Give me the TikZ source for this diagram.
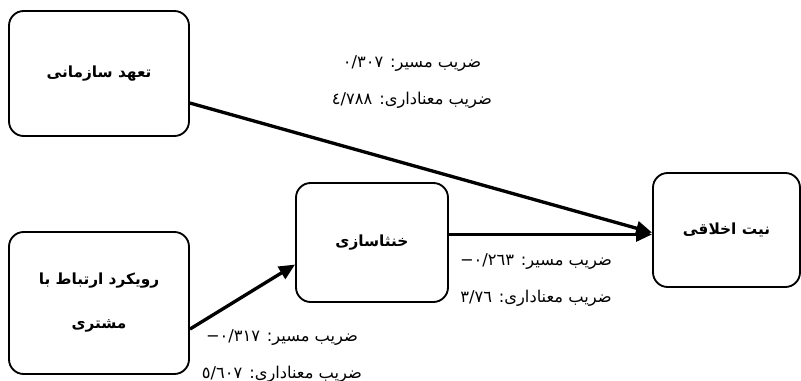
\documentclass[tikz,border=0pt]{standalone}
\usepackage{fontspec}
\newfontfamily\arabicfont[Script=Arabic]{DejaVu Sans}
\TeXXeTstate=1
\usetikzlibrary{arrows.meta}
\newcommand{\rtl}[1]{\beginR #1\endR}

\begin{document}
\begin{tikzpicture}[x=0.75pt, y=-0.75pt, >={Triangle[length=12pt,width=10.5pt]},
      var/.style={draw, line width=1.4pt, rounded corners=11pt, align=center,
        font=\arabicfont\bfseries\fontsize{11.5}{33}\selectfont},
      coef/.style={align=center, inner sep=0pt, font=\arabicfont\fontsize{12.2}{27.75}\selectfont},
      link/.style={->, line width=2.5pt}]
    \useasboundingbox (0,0) rectangle (801,381);
    \node[var, minimum width=135pt, minimum height=93.75pt] (org) at (99,73.5) {\rtl{تعهد سازمانی}};
    \node[var, minimum width=135pt, minimum height=106.5pt] (crm) at (99,303) {\rtl{رویکرد ارتباط با}\\\rtl{مشتری}};
    \node[var, minimum width=114pt, minimum height=89.25pt] (neut) at (372,242.5) {\rtl{خنثاسازی}};
    \node[var, minimum width=110.25pt, minimum height=85.5pt] (eth) at (726.5,230) {\rtl{نیت اخلاقی}};
    \draw[link] (org.-18) -- (eth.182);
    \draw[link] (neut.6) -- (neut.6 -| eth.west);
    \draw[link] (crm.-16) -- (neut.196);
    \node[coef] (c1) at (412,82.5) {\rtl{ضریب مسیر: ٠/٣٠٧}\\\rtl{ضریب معناداری: ٤/٧٨٨}};
    \node[coef] (c2) at (536,280) {\rtl{ضریب مسیر: ٠/٢٦٣−}\\\rtl{ضریب معناداری: ٣/٧٦}};
    \node[coef] (c3) at (282,356) {\rtl{ضریب مسیر: ٠/٣١٧−}\\\rtl{ضریب معناداری: ٥/٦٠٧}};
\end{tikzpicture}
\end{document}
